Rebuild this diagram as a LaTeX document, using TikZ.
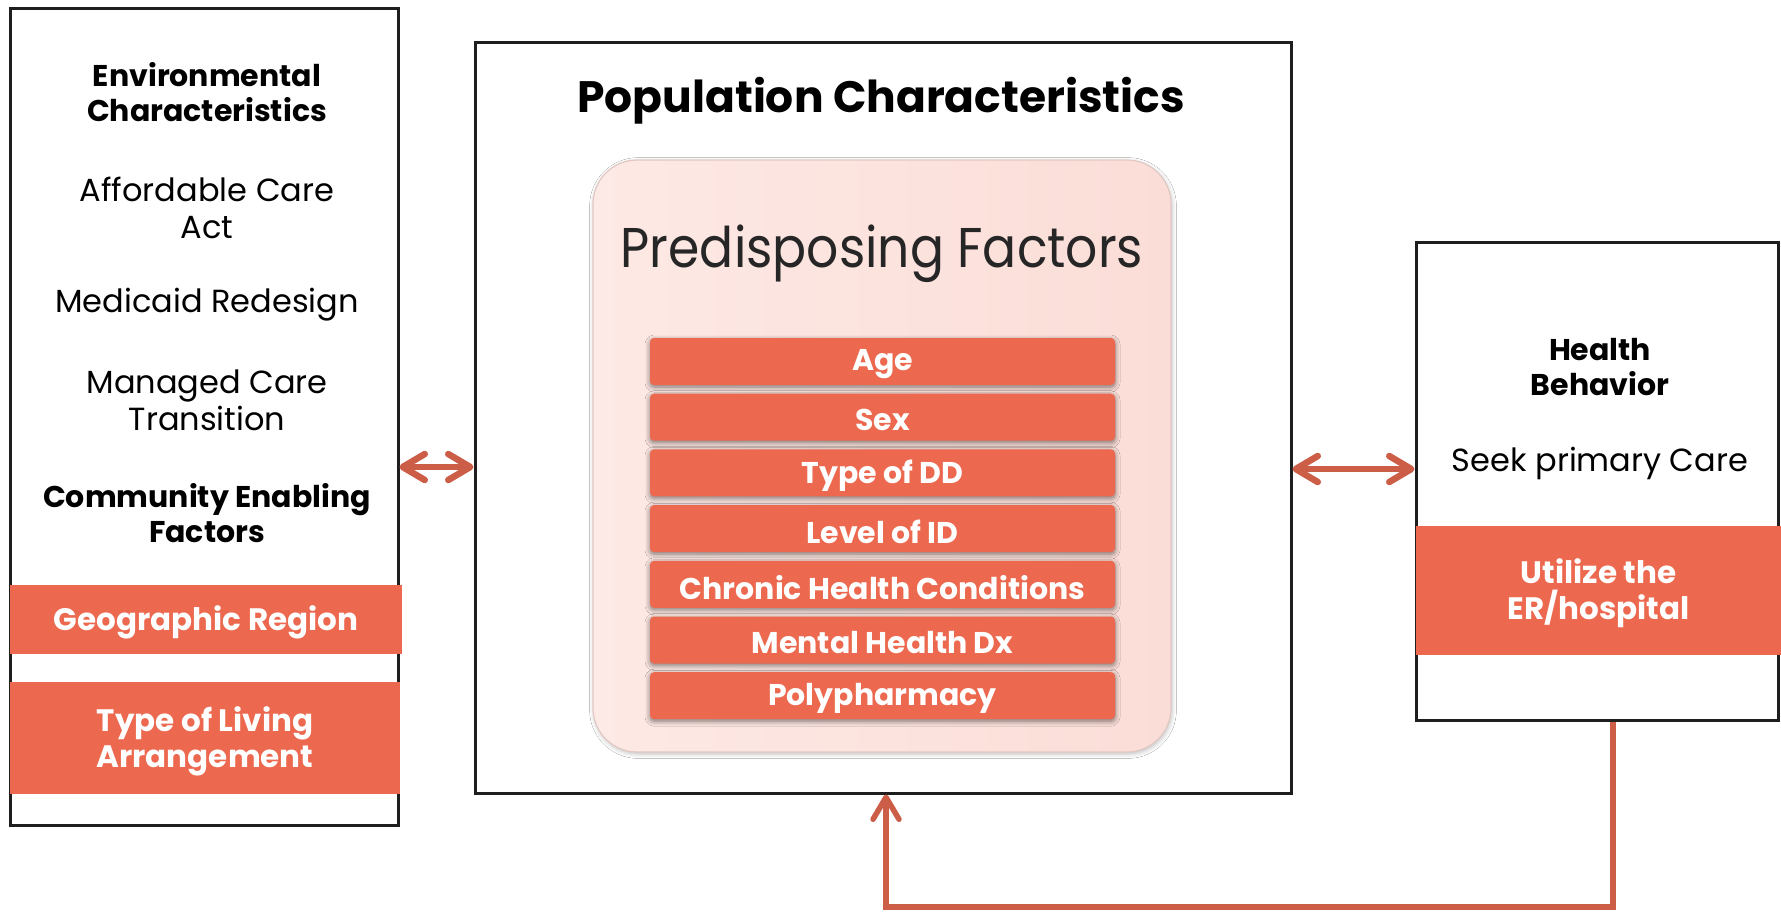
\documentclass[tikz,border=0pt]{standalone}
\usepackage{fontspec}
\setmainfont{Poppins}
\newfontfamily\thinfont[FakeStretch=0.9]{Poppins}
\usetikzlibrary{arrows.meta,shadows.blur}

\definecolor{coral}{RGB}{236,104,78}
\definecolor{linkc}{RGB}{204,94,72}
\definecolor{pinkL}{RGB}{253,233,229}
\definecolor{pinkR}{RGB}{251,221,215}
\definecolor{pinkEdge}{RGB}{225,200,196}
\definecolor{frameC}{RGB}{30,30,30}

\newcommand{\fsz}[2]{\fontsize{#1}{#2}\selectfont}

\tikzset{
  frame/.style={draw=frameC, line width=1.5pt, fill=white, inner sep=0pt},
  panel/.style={rounded corners=22pt, left color=pinkL, right color=pinkR,
    draw=pinkEdge, line width=0.6pt, inner sep=0pt},
  band/.style={fill=coral, inner sep=0pt},
  btext/.style={text=white, font=\bfseries\fsz{15.5}{18}, align=center, yshift=-1.5pt},
  factor/.style={band, rounded corners=2pt, minimum width=232.5pt, minimum height=23.5pt,
    blur shadow={shadow blur steps=6, shadow xshift=0pt, shadow yshift=-1pt, shadow opacity=50, shadow blur radius=2.5pt}},
  ftext/.style={btext, font=\bfseries\fsz{15}{17}},
  plain/.style={align=center, text=black, font=\fsz{16}{18.5}},
  head/.style={align=center, text=black, font=\bfseries\fsz{15}{17.5}},
  barb/.tip={Straight Barb[length=11pt, width=13pt, round]},
  link/.style={draw=linkc, line width=3.25pt, barb-barb},
  loop/.style={draw=linkc, line width=2.75pt, -barb}
}

\begin{document}
\begin{tikzpicture}[x=0.5pt, y=-0.5pt]
\useasboundingbox (0,0) rectangle (1781,912);
\fill[white] (0,0) rectangle (1781,912);

% the three outer boxes
\node[frame, minimum width=194pt, minimum height=408.5pt] (env) at (204,416.5) {};
\node[frame, minimum width=408pt, minimum height=375.5pt] (pop) at (883,417.5) {};
\node[frame, minimum width=181pt, minimum height=239pt] (hb) at (1597,481) {};

% environmental column
\node[head]  (envhead) at (207,92)  {Environmental\\Characteristics};
\node[plain] (aca)     at (207,208) {Affordable Care\\Act};
\node[plain] (mcd)     at (207,305) {Medicaid Redesign};
\node[plain] (mct)     at (207,400) {Managed Care\\Transition};
\node[head]  (comm)    at (207,513) {Community Enabling\\Factors};
\node[band, minimum width=196pt, minimum height=34.5pt,
  label={[btext]center:Geographic Region}] (geo) at (206,619.5) {};
\node[band, minimum width=195pt, minimum height=56pt,
  label={[btext]center:{Type of Living\\Arrangement}}] (liv) at (205,738) {};

% population characteristics
\node[head, font=\bfseries\fsz{22}{26}] (poptitle) at (881,101) {Population Characteristics};
\node[panel, minimum width=289pt, minimum height=296pt,
  blur shadow={shadow blur steps=5, shadow xshift=0.5pt, shadow yshift=-1pt, shadow opacity=25}] (pre) at (882,456) {};
\node[text=black!85, font=\thinfont\fsz{28}{32}] (pretitle) at (882,254) {Predisposing Factors};
\foreach \t [count=\i from 0] in {Age,Sex,Type of DD,Level of ID,Chronic Health Conditions,Mental Health Dx,Polypharmacy}
  \node[factor, label={[ftext]center:\t}] (f\i) at (882.5,{361.5+55.7*\i}) {};

% health behaviour column
\node[head]  (hbhead) at (1600,367) {Health\\Behavior};
\node[plain] (seek)   at (1600,463) {Seek primary Care};
\node[band, minimum width=182.5pt, minimum height=64.5pt,
  label={[btext]center:{Utilize the\\ER/hospital}}] (er) at (1598.5,590.5) {};

% connectors
\coordinate (lv) at (0,467);
\coordinate (rv) at (0,469);
\draw[link] (env.east |- lv) -- (pop.west |- lv);
\draw[link] (pop.east |- rv) -- (hb.west |- rv);
\coordinate (fbR) at (1613,907);
\coordinate (fbL) at (886,907);
\draw[loop] (hb.south -| fbR) -- (fbR) -- (fbL) -- (pop.south -| fbL);
\end{tikzpicture}
\end{document}
